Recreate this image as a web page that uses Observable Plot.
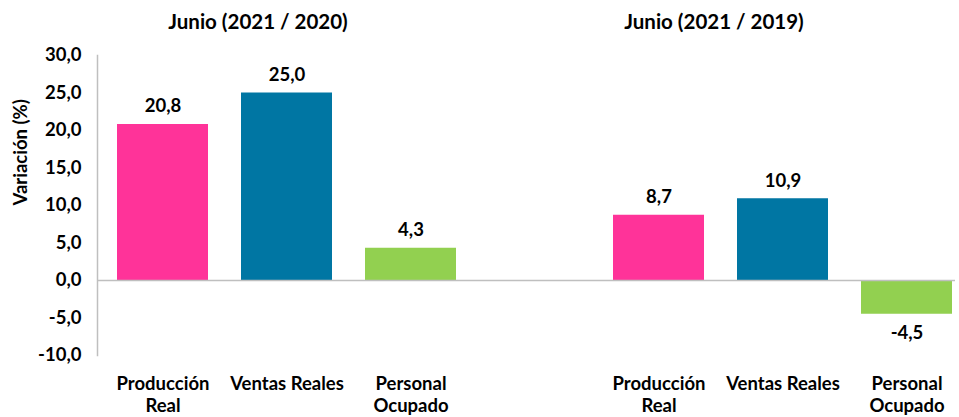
<!DOCTYPE html>
<html>
<head>
<meta charset="utf-8">
<script src="https://cdn.jsdelivr.net/npm/d3@7"></script>
<script src="https://cdn.jsdelivr.net/npm/@observablehq/plot@0.6"></script>
<style>
  html, body { margin: 0; padding: 0; background: #fff; }
</style>
</head>
<body>
<div id="chart"></div>
<script>
const groups = ["Junio (2021 / 2020)", "Junio (2021 / 2019)"];
const series = ["Producción\nReal", "Ventas Reales", "Personal\nOcupado"];
const values2020 = [20.8, 25.0, 4.3];
const values2019 = [8.7, 10.9, -4.5];
const colors = ["#FF3399", "#0076A3", "#92D050"];
const yTicks = [-10, -5, 0, 5, 10, 15, 20, 25, 30];

const groupValues = [values2020, values2019];
const rows = [];
groups.forEach((g, gi) => {
  series.forEach((s, si) => {
    rows.push({group: g, series: s, key: g + "|" + s, value: groupValues[gi][si], color: colors[si]});
  });
});
const spacer = "spacer";
const domain = [...rows.slice(0, 3).map(d => d.key), spacer, ...rows.slice(3).map(d => d.key)];
const titles = groups.map((g, gi) => ({title: g, key: rows[gi * 3 + 1].key}));
const fmt = v => v.toFixed(1).replace(".", ",");

const font = "Lato, 'Open Sans', sans-serif";
const fs = 18.5;

const chart = Plot.plot({
  width: 959,
  height: 417,
  marginLeft: 97,
  marginRight: 4,
  marginTop: 55,
  marginBottom: 62,
  style: {fontFamily: font, fontWeight: "bold", fontSize: fs + "px", color: "#000", background: "#fff"},
  x: {domain, range: [115, 953], paddingInner: 0.27, paddingOuter: 0, axis: null},
  y: {domain: [-10, 30], ticks: yTicks, label: null},
  marks: [
    Plot.barY(rows, {x: "key", y: "value", fill: "color"}),
    Plot.frame({anchor: "left", stroke: "#bfbfbf", strokeWidth: 1.5}),
    Plot.ruleY([0], {stroke: "#bfbfbf", strokeWidth: 1.5}),
    Plot.axisY({ticks: yTicks, tickSize: 0, tickPadding: 16, tickFormat: fmt, fontSize: fs, fontWeight: "bold", label: null}),
    Plot.text(["Variación (%)"], {frameAnchor: "left", rotate: -90, dx: -76, fontSize: fs, fontWeight: "bold", text: d => d}),
    Plot.text(rows, {x: "key", y: "value", text: d => fmt(d.value), fontSize: fs, fontWeight: "bold",
      lineAnchor: "middle", filter: d => d.value >= 0, dy: -18}),
    Plot.text(rows, {x: "key", y: "value", text: d => fmt(d.value), fontSize: fs, fontWeight: "bold",
      lineAnchor: "middle", filter: d => d.value < 0, dy: 19}),
    Plot.text(rows, {x: "key", text: "series", frameAnchor: "bottom", lineAnchor: "top", dy: 19, lineHeight: 1.2, fontSize: fs, fontWeight: "bold"}),
    Plot.text(titles.slice(0, 1), {x: "key", text: "title", frameAnchor: "top", lineAnchor: "middle", dy: -33, dx: -29, fontSize: 20.5, fontWeight: "bold"}),
    Plot.text(titles.slice(1), {x: "key", text: "title", frameAnchor: "top", lineAnchor: "middle", dy: -33, dx: -69, fontSize: 20.5, fontWeight: "bold"})
  ]
});
document.getElementById("chart").appendChild(chart);
</script>
</body>
</html>
